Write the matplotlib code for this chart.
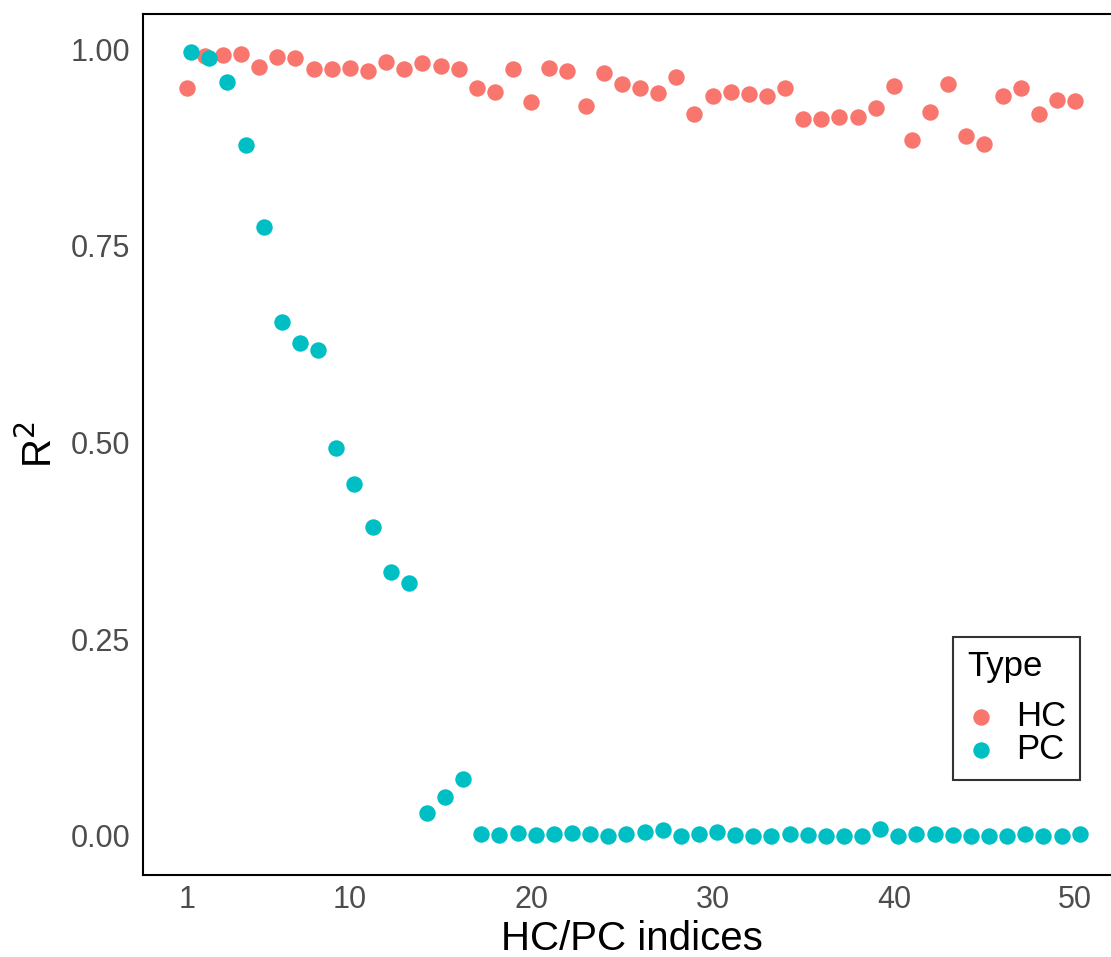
import matplotlib
matplotlib.use("Agg")
import matplotlib.pyplot as plt
import numpy as np

plt.rcParams['font.family'] = ['Liberation Sans', 'DejaVu Sans']

indices = list(range(1, 51))
hc_r2 = [0.950, 0.991, 0.993, 0.994, 0.977, 0.990, 0.988, 0.975, 0.975, 0.976,
         0.972, 0.983, 0.975, 0.982, 0.978, 0.975, 0.950, 0.945, 0.974, 0.933,
         0.976, 0.972, 0.928, 0.969, 0.956, 0.950, 0.944, 0.964, 0.917, 0.940,
         0.946, 0.943, 0.940, 0.950, 0.911, 0.911, 0.913, 0.913, 0.925, 0.953,
         0.884, 0.920, 0.956, 0.890, 0.879, 0.940, 0.950, 0.917, 0.935, 0.934]
pc_r2 = [0.996, 0.988, 0.958, 0.878, 0.774, 0.653, 0.626, 0.618, 0.493, 0.447,
         0.393, 0.335, 0.321, 0.029, 0.050, 0.072, 0.003, 0.001, 0.004, 0.001,
         0.003, 0.004, 0.002, 0.000, 0.003, 0.005, 0.007, 0.000, 0.002, 0.005,
         0.001, 0.000, 0.000, 0.002, 0.001, 0.000, 0.000, 0.000, 0.009, 0.000,
         0.002, 0.002, 0.001, 0.000, 0.000, 0.000, 0.002, 0.000, 0.000, 0.002]
pc_offset = 0.25
x_ticks = [1, 10, 20, 30, 40, 50]
y_ticks = [0.00, 0.25, 0.50, 0.75, 1.00]
y_ticklabels = ["0.00", "0.25", "0.50", "0.75", "1.00"]

HC_COLOR = "#F8766D"
PC_COLOR = "#00BFC4"

fig = plt.figure(figsize=(11.11, 9.57), dpi=100)
ax = fig.add_axes([143/1111, (957-875)/957, (1121-143)/1111, (875-14)/957])

ms = 140
ax.scatter(indices, hc_r2, s=ms, color=HC_COLOR, linewidths=0, label="HC", zorder=3)
ax.scatter(np.array(indices) + pc_offset, pc_r2, s=ms, color=PC_COLOR, linewidths=0, label="PC", zorder=3)

ax.set_xlim(-1.41, 52.53)
ax.set_ylim(-0.0496, 1.0445)
ax.set_xticks(x_ticks)
ax.set_xticklabels([str(t) for t in x_ticks])
ax.set_yticks(y_ticks)
ax.set_yticklabels(y_ticklabels)
ax.tick_params(axis='both', length=0, labelsize=22, labelcolor='#4D4D4D')
ax.tick_params(axis='x', pad=7)
ax.tick_params(axis='y', pad=9)
for sp in ax.spines.values():
    sp.set_linewidth(1.5)
    sp.set_color('black')
ax.spines['right'].set_visible(False)

ax.set_xlabel("HC/PC indices", fontsize=29, labelpad=4)
ax.set_ylabel(r"R$^2$", fontsize=29, labelpad=8)

leg = ax.legend(title="Type", loc='lower right', bbox_to_anchor=(1080/1111, (957-780)/957),
                bbox_transform=fig.transFigure, fontsize=25, title_fontsize=25,
                frameon=True, fancybox=False, edgecolor='black', borderaxespad=0,
                labelspacing=0.0, handletextpad=0.6, borderpad=0.4, handlelength=0.8,
                alignment='left')
leg.get_frame().set_linewidth(1.5)
leg._legend_box.sep = 12

fig.savefig("out.png", dpi=100)
